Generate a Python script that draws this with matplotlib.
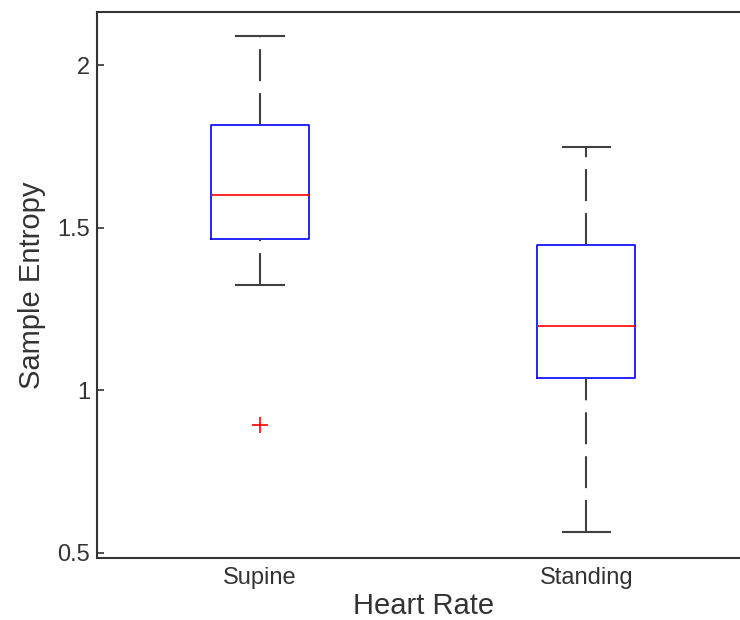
import matplotlib
matplotlib.use("Agg")
import matplotlib.pyplot as plt

# box statistics
groups = ["Supine", "Standing"]
medians = [1.600, 1.197]
q1s = [1.465, 1.039]
q3s = [1.815, 1.448]
whislos = [1.323, 0.564]
whishis = [2.089, 1.748]
outliers = [[0.894], []]

plt.rcParams['font.family'] = ['Liberation Sans', 'DejaVu Sans']
plt.rcParams['lines.scale_dashes'] = False

fig = plt.figure(figsize=(7.4, 6.2), dpi=100)
ax = fig.add_axes([0.1311, 0.1008, 0.8818, 0.8798])

stats = []
for i in range(len(groups)):
    stats.append({
        "label": groups[i],
        "med": medians[i],
        "q1": q1s[i],
        "q3": q3s[i],
        "whislo": whislos[i],
        "whishi": whishis[i],
        "fliers": outliers[i],
    })

dash = (0, (23, 8.6))
bp = ax.bxp(stats, positions=[1, 2], widths=0.30, capwidths=0.145,
            boxprops=dict(color="#0000ff", linewidth=1.2),
            medianprops=dict(color="#ff0000", linewidth=1.2),
            whiskerprops=dict(color="#404040", linewidth=1.5, linestyle=dash),
            capprops=dict(color="#404040", linewidth=1.5),
            flierprops=dict(marker="+", markeredgecolor="#ff0000",
                            markersize=11, markeredgewidth=1.2, linestyle="none"))

# matlab draws each whisker from its lower end upward
for w in bp["whiskers"]:
    xs, ys = w.get_data()
    if ys[1] < ys[0]:
        w.set_data(xs[::-1], ys[::-1])

ax.set_xlim(0.5, 2.5)
ax.set_ylim(0.486, 2.163)
ax.set_yticks([0.5, 1, 1.5, 2])
ax.set_yticklabels(["0.5", "1", "1.5", "2"])
ax.set_xticks([1, 2])
ax.set_xticklabels(groups)

ax.tick_params(axis="y", direction="in", length=5, width=1.2, color="#333333",
               labelsize=17, labelcolor="#333333", pad=5)
ax.tick_params(axis="x", length=0, labelsize=17, labelcolor="#333333", pad=7)

for s in ax.spines.values():
    s.set_color("#333333")
    s.set_linewidth(1.5)

ax.set_xlabel("Heart Rate", fontsize=21, color="#333333", labelpad=2)
ax.set_ylabel("Sample Entropy", fontsize=21, color="#333333", labelpad=8)

fig.savefig("out.png", dpi=100)
